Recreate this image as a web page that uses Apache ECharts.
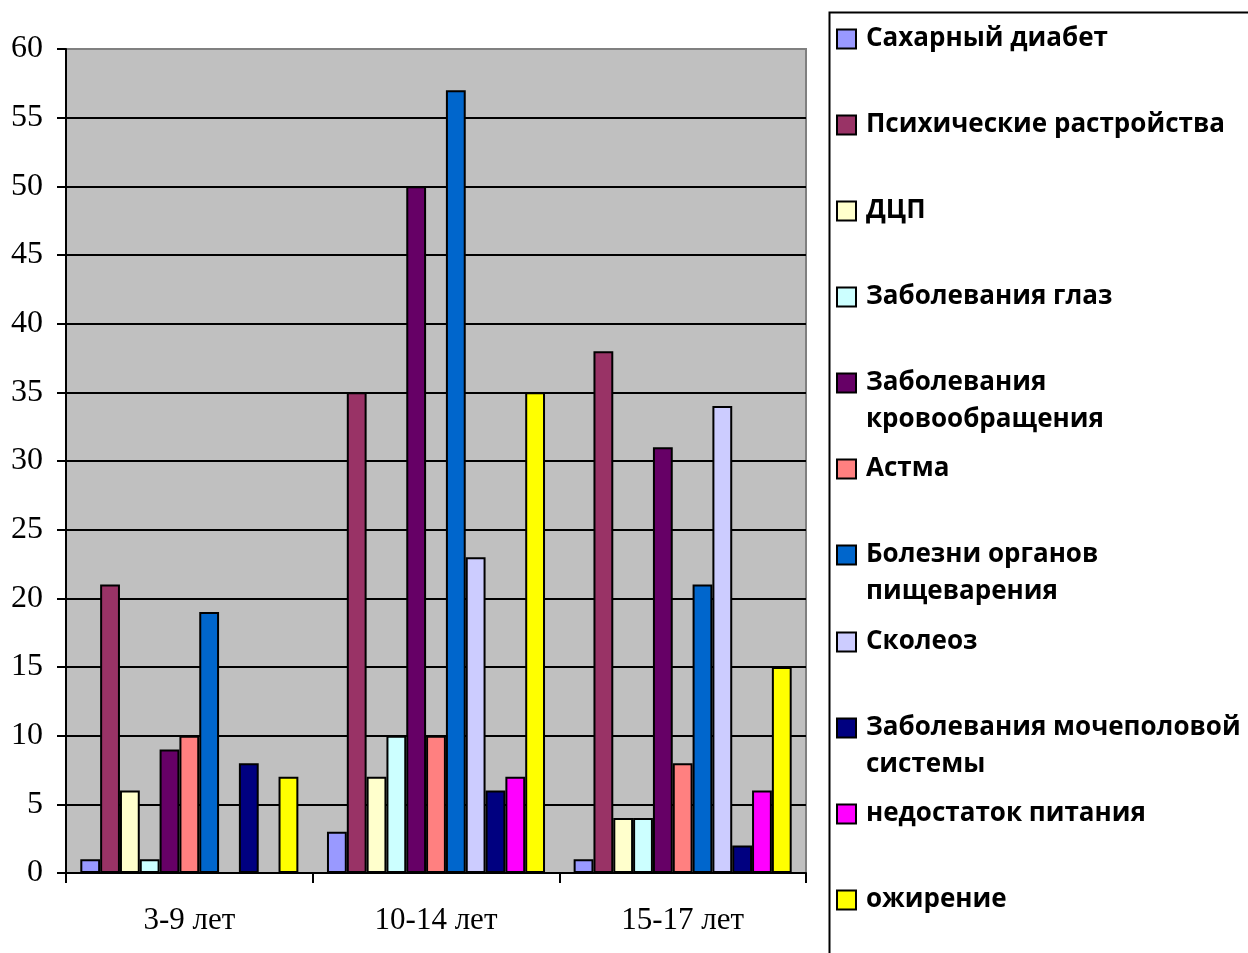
<!DOCTYPE html>
<html><head><meta charset="utf-8">
<script src="https://cdn.jsdelivr.net/npm/echarts@6/dist/echarts.min.js"></script>
<style>html,body{margin:0;padding:0;background:#fff}#c{width:1248px;height:953px}</style>
</head><body><div id="c"></div>
<script>
const categories = ['3-9 лет', '10-14 лет', '15-17 лет'];
const seriesNames = ['Сахарный диабет','Психические растройства','ДЦП','Заболевания глаз','Заболевания кровообращения','Астма','Болезни органов пищеварения','Сколеоз','Заболевания мочеполовой системы','недостаток питания','ожирение'];
const legendLabels = ['Сахарный диабет','Психические растройства','ДЦП','Заболевания глаз','Заболевания\nкровообращения','Астма','Болезни органов\nпищеварения','Сколеоз','Заболевания мочеполовой\nсистемы','недостаток питания','ожирение'];
const seriesColors = ['#9999FF','#993366','#FFFFCC','#CCFFFF','#660066','#FF8080','#0066CC','#CCCCFF','#000080','#FF00FF','#FFFF00'];
const diabetes = [1, 3, 1];
const mental = [21, 35, 38];
const dcp = [6, 7, 4];
const eyes = [1, 10, 4];
const circulation = [9, 50, 31];
const asthma = [10, 10, 8];
const digestion = [19, 57, 21];
const scoliosis = [0, 23, 34];
const urogenital = [8, 6, 2];
const malnutrition = [0, 7, 6];
const obesity = [7, 35, 15];
const seriesValues = [diabetes, mental, dcp, eyes, circulation, asthma, digestion, scoliosis, urogenital, malnutrition, obesity];
const yTicks = {min: 0, max: 60, interval: 5};

const chart = echarts.init(document.getElementById('c'));
const series = seriesNames.map((n, i) => ({
  name: n, type: 'bar', data: seriesValues[i],
  barGap: '0%', barCategoryGap: '11.6%',
  itemStyle: {color: seriesColors[i], borderColor: '#000', borderWidth: 2},
  emphasis: {disabled: true}
}));
const legendCenters = [37,123,209,295,381,467,553,640,726,812,898];
const legends = seriesNames.map((n, i) => {
  const two = legendLabels[i].indexOf('\n') >= 0;
  return {
    data: [n], orient: 'vertical', left: 836, top: legendCenters[i] - 16.5,
    padding: 0, itemGap: 0,
    icon: two ? 'path://M0,0L19,0L19,19L0,19ZM0,56' : 'rect',
    itemWidth: 19, itemHeight: two ? 56 : 19,
    selectedMode: false,
    formatter: () => legendLabels[i],
    itemStyle: {color: seriesColors[i], borderColor: '#000', borderWidth: 2},
    textStyle: {fontFamily: 'Open Sans', fontWeight: 'bold', fontSize: 26, color: '#000', lineHeight: 37, padding: [0,0,0,5]}
  };
});
chart.setOption({
  animation: false,
  backgroundColor: '#fff',
  legend: legends,
  grid: {left: 66, right: 442, top: 49, bottom: 80, show: true, backgroundColor: '#C0C0C0', borderColor: '#808080', borderWidth: 2},
  xAxis: {
    type: 'category', data: categories,
    axisLine: {lineStyle: {color: '#000', width: 2}},
    axisTick: {show: true, length: 10, lineStyle: {color: '#000', width: 2}},
    axisLabel: {fontFamily: 'Liberation Serif', fontSize: 31, color: '#000', margin: 32}
  },
  yAxis: {
    type: 'value', min: yTicks.min, max: yTicks.max, interval: yTicks.interval,
    axisLine: {show: true, lineStyle: {color: '#000', width: 2}},
    axisTick: {show: true, length: 9, lineStyle: {color: '#000', width: 2}},
    axisLabel: {fontFamily: 'Liberation Serif', fontSize: 32, color: '#000', margin: 23},
    splitLine: {show: true, showMaxLine: false, lineStyle: {color: '#000', width: 2}}
  },
  graphic: [{type: 'rect', left: 827, top: 10, shape: {width: 500, height: 1000}, style: {fill: 'none', stroke: '#000', lineWidth: 2}, silent: true}],
  series: series
});
</script></body></html>
